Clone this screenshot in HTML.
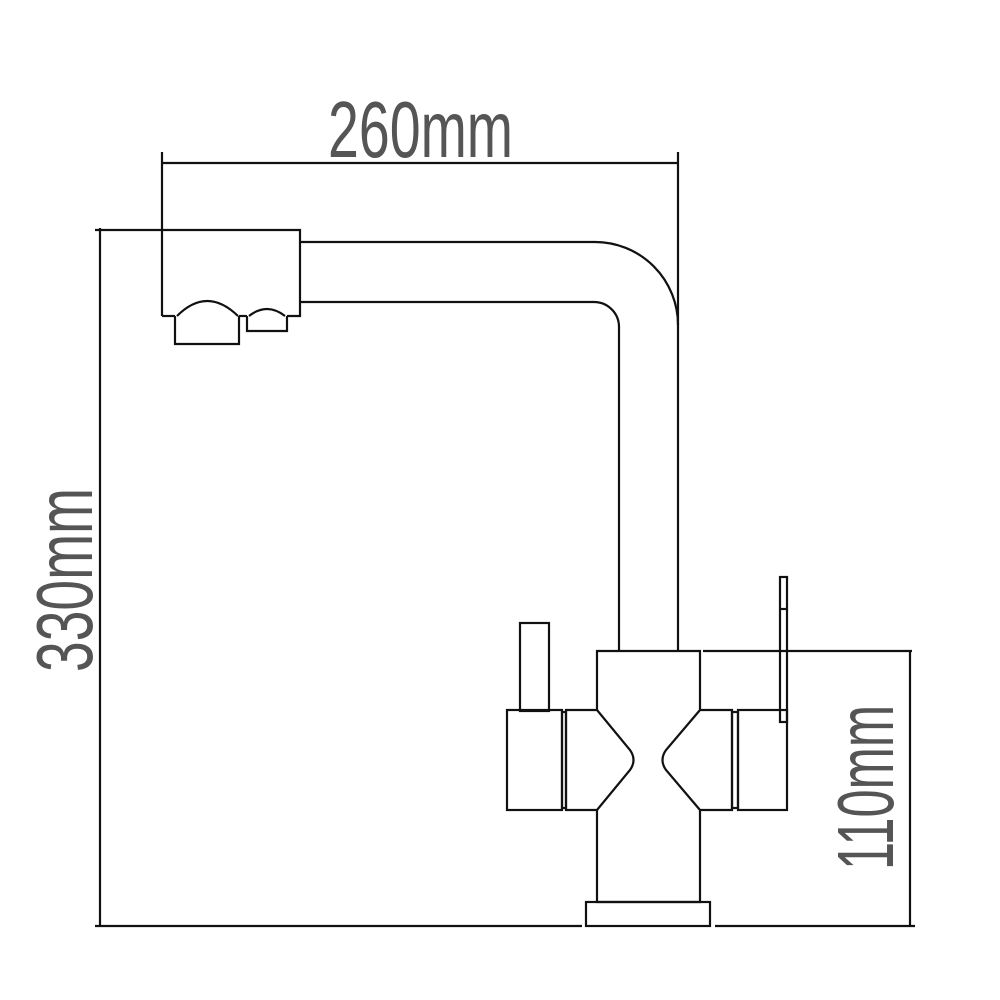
<!DOCTYPE html>
<html><head><style>html,body{margin:0;padding:0;background:#fff}svg{display:block}</style></head>
<body>
<svg width="1000" height="1000" viewBox="0 0 1000 1000" xmlns="http://www.w3.org/2000/svg">
<g fill="none" stroke="#111" stroke-width="2.2">
<line x1="162" y1="163" x2="678" y2="163"/>
<line x1="162" y1="152" x2="162" y2="316"/>
<line x1="678" y1="152" x2="678" y2="325"/>
<line x1="100" y1="228" x2="100" y2="926"/>
<line x1="95" y1="230" x2="162" y2="230"/>
<line x1="910" y1="651" x2="910" y2="926"/>
<line x1="703" y1="651" x2="912" y2="651"/>
<line x1="95" y1="926" x2="582" y2="926"/>
<line x1="715" y1="926" x2="915" y2="926"/>
<path d="M162 230 H300 V316 H287"/>
<path d="M162 316 H175"/>
<path d="M239 316 H247"/>
<path d="M175 316 V344 H239 V316"/>
<path d="M177 316 Q207 286 238 316"/>
<path d="M247 316 V331 H287 V316"/>
<path d="M249 316 Q267 302 285 316"/>
<path d="M300 242 H595 A83 83 0 0 1 678 325 V651"/>
<path d="M300 302 H594 A25 25 0 0 1 619 327 V651"/>
<path d="M597 710 V651 H700 V710"/>
<path d="M597 810 V902 H700 V810"/>
<rect x="586" y="902" width="124" height="24"/>
<rect x="520" y="623" width="29" height="88"/>
<rect x="507" y="710" width="55" height="100"/>
<rect x="562" y="712" width="4" height="96"/>
<path d="M597 710 H566 V810 H597 L630 770 Q637 760 630 750 Z"/>
<path d="M700 710 H732 V810 H700 L666 770 Q659 760 666 750 Z"/>
<rect x="732" y="712" width="6" height="96"/>
<rect x="738" y="710" width="49" height="100"/>
<rect x="780" y="577" width="7" height="145"/>
<line x1="780" y1="609" x2="787" y2="609"/>
</g>
<g fill="#555" font-family="Liberation Sans, sans-serif" font-size="80">
<text x="328" y="157" textLength="185" lengthAdjust="spacingAndGlyphs">260mm</text>
<text transform="translate(92,672) rotate(-90)" textLength="184" lengthAdjust="spacingAndGlyphs">330mm</text>
<text transform="translate(893,870) rotate(-90)" textLength="165" lengthAdjust="spacingAndGlyphs">110mm</text>
</g>
</svg>
</body></html>
